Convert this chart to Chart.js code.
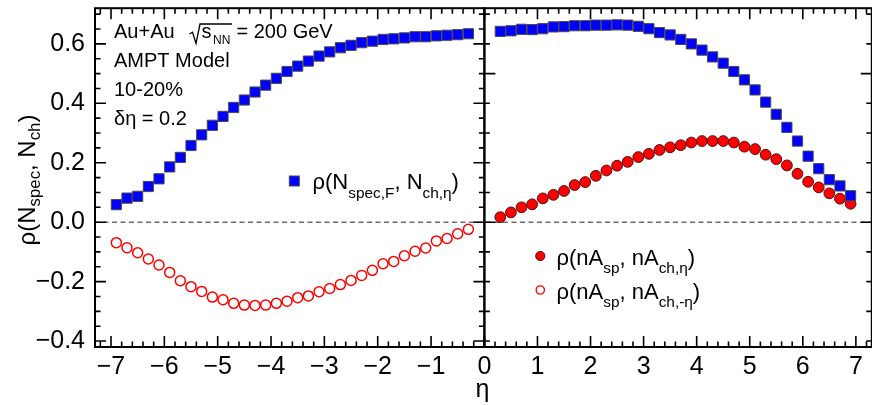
<!DOCTYPE html>
<html>
<head>
<meta charset="utf-8">
<title>rho vs eta, AMPT</title>
<script src="https://cdn.jsdelivr.net/npm/chart.js@4.4.0/dist/chart.umd.min.js"></script>
<style>
  html, body { margin: 0; padding: 0; background: #fff; overflow: hidden; }
  #wrap { position: relative; width: 880px; height: 405px; }
</style>
</head>
<body>
<div id="wrap"><canvas id="chart"></canvas></div>
<script>
"use strict";

const FONT = "'Liberation Sans', Arial, Helvetica, sans-serif";

// eta bin centres, backward (left panel) and forward (right panel)
const etaBackward = [-6.9, -6.7, -6.5, -6.3, -6.1, -5.9, -5.7, -5.5, -5.3, -5.1, -4.9, -4.7,
  -4.5, -4.3, -4.1, -3.9, -3.7, -3.5, -3.3, -3.1, -2.9, -2.7, -2.5, -2.3, -2.1, -1.9, -1.7,
  -1.5, -1.3, -1.1, -0.9, -0.7, -0.5, -0.3];
const etaForward = [0.3, 0.5, 0.7, 0.9, 1.1, 1.3, 1.5, 1.7, 1.9, 2.1, 2.3, 2.5, 2.7, 2.9,
  3.1, 3.3, 3.5, 3.7, 3.9, 4.1, 4.3, 4.5, 4.7, 4.9, 5.1, 5.3, 5.5, 5.7, 5.9, 6.1, 6.3, 6.5,
  6.7, 6.9];

// rho(N_spec,F , N_ch,eta)
const rhoSpecBackward = [0.059, 0.081, 0.087, 0.120, 0.146, 0.186, 0.218, 0.258, 0.294, 0.326,
  0.356, 0.386, 0.411, 0.438, 0.461, 0.484, 0.507, 0.525, 0.542, 0.559, 0.573, 0.587, 0.595,
  0.604, 0.609, 0.615, 0.617, 0.620, 0.624, 0.624, 0.627, 0.629, 0.631, 0.634];
const rhoSpecForward = [0.642, 0.644, 0.649, 0.648, 0.651, 0.657, 0.658, 0.661, 0.661, 0.663,
  0.663, 0.664, 0.663, 0.659, 0.651, 0.638, 0.630, 0.615, 0.600, 0.579, 0.556, 0.535, 0.507,
  0.479, 0.445, 0.404, 0.363, 0.319, 0.273, 0.222, 0.180, 0.143, 0.122, 0.089];

// rho(nA_sp , nA_ch,-eta)  (left, open circles)
const rhoNegEta = [-0.069, -0.086, -0.103, -0.124, -0.144, -0.169, -0.197, -0.217, -0.233,
  -0.252, -0.261, -0.273, -0.279, -0.280, -0.279, -0.273, -0.266, -0.254, -0.248, -0.234,
  -0.223, -0.210, -0.196, -0.179, -0.162, -0.140, -0.132, -0.113, -0.098, -0.087, -0.063,
  -0.055, -0.039, -0.024];
// rho(nA_sp , nA_ch,eta)  (right, filled circles)
const rhoPosEta = [0.017, 0.033, 0.050, 0.060, 0.080, 0.092, 0.105, 0.125, 0.135, 0.156,
  0.174, 0.190, 0.203, 0.219, 0.230, 0.243, 0.252, 0.259, 0.268, 0.273, 0.273, 0.273, 0.268,
  0.254, 0.246, 0.227, 0.212, 0.191, 0.163, 0.136, 0.117, 0.097, 0.079, 0.062];

const yTicks = [-0.4, -0.2, 0, 0.2, 0.4, 0.6];
const xTicksLeft = [-7, -6, -5, -4, -3, -2, -1];
const xTicksRight = [0, 1, 2, 3, 4, 5, 6, 7];

const BLUE = "#0000ff";
const RED = "#ff0000";

function pts(xs, ys) { return xs.map((x, i) => ({ x, y: ys[i] })); }

function fmt(v, digits) {
  const s = digits ? Math.abs(v).toFixed(digits) : String(Math.abs(v));
  return (v < -1e-9 ? "\u2212" : "") + s;
}

function ticksBetween(min, max, step) {
  const out = [];
  for (let k = Math.ceil(min / step - 1e-9); k * step <= max + 1e-9; k++) out.push(k * step);
  return out;
}

function isMulti(v, step) { return Math.abs(v / step - Math.round(v / step)) < 1e-6; }

// no label overhang padding: the frame is placed by hand
function noPad(s) { s.paddingLeft = 0; s.paddingRight = 0; s.paddingTop = 0; s.paddingBottom = 0; }

// text with subscripts: parts = [[text, isSub], ...]
function richWidth(ctx, parts, size) {
  let w = 0;
  parts.forEach(([t, sub]) => {
    ctx.font = (sub ? size * 0.7 : size) + "px " + FONT;
    w += ctx.measureText(t).width;
  });
  return w;
}
function rich(ctx, x, y, parts, size, drop) {
  let cx = x;
  parts.forEach(([t, sub]) => {
    ctx.font = (sub ? size * 0.7 : size) + "px " + FONT;
    ctx.fillText(t, cx, y + (sub ? drop : 0));
    cx += ctx.measureText(t).width;
  });
}

const panels = [
  { id: "xl", yMajor: 0.2, yMinor: 0.05 },
  { id: "xr", yMajor: 0.5, yMinor: 0.1 },
];

const zeroLine = {
  id: "zeroLine",
  beforeDatasetsDraw(chart) {
    const { ctx, chartArea, scales } = chart;
    const y0 = scales.y.getPixelForValue(0);
    ctx.save();
    ctx.strokeStyle = "#222";
    ctx.lineWidth = 1;
    ctx.setLineDash([5, 3.5]);
    ctx.beginPath();
    ctx.moveTo(chartArea.left, y0);
    ctx.lineTo(chartArea.right, y0);
    ctx.stroke();
    ctx.restore();
  }
};

const frames = {
  id: "frames",
  afterDatasetsDraw(chart) {
    const { ctx, chartArea, scales } = chart;
    const y = scales.y;
    const top = chartArea.top, bottom = chartArea.bottom;
    ctx.save();
    ctx.strokeStyle = "#000";
    panels.forEach((p) => {
      const xs = scales[p.id];
      const left = xs.left, right = xs.right;
      ctx.lineWidth = 1.6;
      ctx.beginPath();
      ticksBetween(xs.min, xs.max, 0.2).forEach((v) => {
        const px = xs.getPixelForValue(v);
        const len = isMulti(v, 1) ? 11 : 5.5;
        ctx.moveTo(px, bottom); ctx.lineTo(px, bottom - len);
        ctx.moveTo(px, top); ctx.lineTo(px, top + len);
      });
      ticksBetween(y.min, y.max, p.yMinor).forEach((v) => {
        const py = y.getPixelForValue(v);
        const len = isMulti(v, p.yMajor) ? 11 : 5.5;
        ctx.moveTo(left, py); ctx.lineTo(left + len, py);
        ctx.moveTo(right, py); ctx.lineTo(right - len, py);
      });
      ctx.stroke();
      ctx.lineWidth = 2;
      ctx.strokeRect(left, top, right - left, bottom - top);
    });
    ctx.restore();
  }
};

const labels = {
  id: "labels",
  afterDraw(chart) {
    const ctx = chart.ctx;
    ctx.save();
    ctx.fillStyle = "#000";
    ctx.textBaseline = "alphabetic";
    ctx.textAlign = "left";

    // y axis title
    const yTitle = [["\u03c1(N", false], ["spec", true], [", N", false], ["ch", true], [")", false]];
    ctx.save();
    ctx.translate(35, 180);
    ctx.rotate(-Math.PI / 2);
    const w = richWidth(ctx, yTitle, 24);
    rich(ctx, -w / 2, 0, yTitle, 24, 4.5);
    ctx.restore();

    // x axis title, sits under the panel join
    ctx.font = "25px " + FONT;
    ctx.textAlign = "center";
    ctx.fillText("\u03b7", chart.scales.xl.right - 2, 397);
    ctx.textAlign = "left";

    // header text
    ctx.font = "20px " + FONT;
    ctx.fillText("Au+Au", 114, 38.3);
    ctx.fillText("s", 201.5, 38.3);
    ctx.fillText("= 200 GeV", 236.5, 38.3);
    ctx.font = "12px " + FONT;
    ctx.fillText("NN", 213, 44.3);
    ctx.lineWidth = 1.3;
    ctx.strokeStyle = "#000";
    ctx.beginPath();
    ctx.moveTo(189.5, 34); ctx.lineTo(192.5, 32.3); ctx.lineTo(196, 43.5);
    ctx.lineTo(200, 24); ctx.lineTo(232, 24);
    ctx.stroke();
    ctx.font = "20px " + FONT;
    ctx.fillText("AMPT Model", 114, 67.3);
    ctx.fillText("10-20%", 114, 96);
    ctx.fillText("\u03b4\u03b7 = 0.2", 114, 125);

    // legend, left panel
    ctx.fillStyle = BLUE;
    ctx.strokeStyle = "#4a4a4a";
    ctx.lineWidth = 1;
    ctx.fillRect(289.3, 176, 10, 10);
    ctx.strokeRect(289.3, 176, 10, 10);
    ctx.fillStyle = "#000";
    rich(ctx, 312.5, 189, [["\u03c1(N", false], ["spec,F", true], [", N", false],
      ["ch,\u03b7", true], [")", false]], 22, 9);

    // legend, right panel
    ctx.fillStyle = RED;
    ctx.strokeStyle = "#4a1010";
    ctx.beginPath();
    ctx.arc(540.3, 256, 4.6, 0, Math.PI * 2);
    ctx.fill(); ctx.stroke();
    ctx.strokeStyle = RED;
    ctx.lineWidth = 1.4;
    ctx.beginPath();
    ctx.arc(540.3, 290, 4.1, 0, Math.PI * 2);
    ctx.stroke();
    ctx.fillStyle = "#000";
    rich(ctx, 556.5, 265, [["\u03c1(nA", false], ["sp", true], [", nA", false],
      ["ch,\u03b7", true], [")", false]], 22, 8);
    rich(ctx, 556.5, 298.5, [["\u03c1(nA", false], ["sp", true], [", nA", false],
      ["ch,-\u03b7", true], [")", false]], 22, 8);
    ctx.restore();
  }
};

const tickFont = { family: FONT, size: 25 };

new Chart(document.getElementById("chart"), {
  type: "scatter",
  data: {
    datasets: [
      { label: "rho(N_spec,F, N_ch,eta) backward", data: pts(etaBackward, rhoSpecBackward),
        xAxisID: "xl", pointStyle: "rect", pointRadius: 7.2, backgroundColor: BLUE,
        borderColor: "#4a4a4a", borderWidth: 1 },
      { label: "rho(nA_sp, nA_ch,-eta)", data: pts(etaBackward, rhoNegEta),
        xAxisID: "xl", pointStyle: "circle", pointRadius: 5, backgroundColor: "rgba(0,0,0,0)",
        borderColor: RED, borderWidth: 1.5 },
      { label: "rho(N_spec,F, N_ch,eta) forward", data: pts(etaForward, rhoSpecForward),
        xAxisID: "xr", pointStyle: "rect", pointRadius: 7.2, backgroundColor: BLUE,
        borderColor: "#4a4a4a", borderWidth: 1 },
      { label: "rho(nA_sp, nA_ch,eta)", data: pts(etaForward, rhoPosEta),
        xAxisID: "xr", pointStyle: "circle", pointRadius: 5.4, backgroundColor: RED,
        borderColor: "#4a1010", borderWidth: 1 },
    ]
  },
  options: {
    responsive: true,
    maintainAspectRatio: false,
    animation: false,
    layout: { padding: { left: 0, top: 4, right: 3, bottom: 0 } },
    plugins: { legend: { display: false }, tooltip: { enabled: false } },
    scales: {
      xl: {
        type: "linear", position: "bottom", stack: "eta", stackWeight: 392,
        min: -7.3, max: 0,
        afterBuildTicks: (s) => { s.ticks = xTicksLeft.map((v) => ({ value: v })); },
        afterFit: (s) => { s.height = 58; noPad(s); },
        grid: { display: false, drawTicks: false }, border: { display: false },
        ticks: { font: tickFont, color: "#000", padding: 5, maxRotation: 0,
          callback: (v) => fmt(v, 0) }
      },
      xr: {
        type: "linear", position: "bottom", stack: "eta", stackWeight: 390,
        min: 0, max: 7.3,
        afterBuildTicks: (s) => { s.ticks = xTicksRight.map((v) => ({ value: v })); },
        afterFit: (s) => { s.height = 58; noPad(s); },
        grid: { display: false, drawTicks: false }, border: { display: false },
        ticks: { font: tickFont, color: "#000", padding: 5, maxRotation: 0,
          callback: (v) => fmt(v, 0) }
      },
      y: {
        type: "linear", position: "left", min: -0.42, max: 0.72,
        afterBuildTicks: (s) => { s.ticks = yTicks.map((v) => ({ value: v })); },
        afterFit: (s) => { s.width = 95; noPad(s); },
        grid: { display: false, drawTicks: false }, border: { display: false },
        ticks: { font: tickFont, color: "#000", padding: 10, callback: (v) => fmt(v, 1) }
      }
    }
  },
  plugins: [zeroLine, frames, labels]
});
</script>
</body>
</html>
